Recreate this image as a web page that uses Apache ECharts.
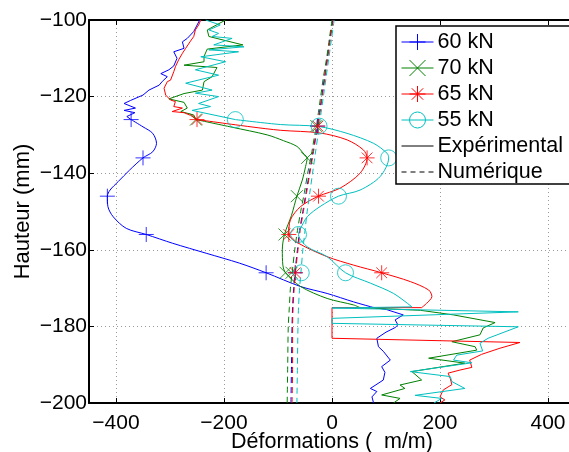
<!DOCTYPE html>
<html><head><meta charset="utf-8">
<script src="https://cdn.jsdelivr.net/npm/echarts@6/dist/echarts.min.js"></script>
<style>html,body{margin:0;padding:0;background:#fff}#c{width:569px;height:452px}</style>
</head><body><div id="c"></div>
<script>
// ---------- tick labels ----------
const xTicks = [-400, -200, 0, 200, 400];
const yMin = -200, yMax = -100, yStep = 20;
const xMin = -450, xMax = 450;

// ---------- legend / load names ----------
const loads = ['60 kN', '70 kN', '65 kN', '55 kN'];
const legendExtra = ['Expérimental', 'Numérique'];

// ---------- experimental: gauge markers ----------
const gaugeY  = [-126, -136, -146, -156, -166];
const gauge60 = [-372, -350, -416, -344, -122];
const gauge70 = [-252,  -46,  -65,  -88,  -86];
const gauge65 = [-250,   65,  -25,  -80,   92];
const gauge55 = [-179,  105,   12,  -62,   25];

// ---------- experimental curves [strain, height] ----------
const exp60Top = [[-245,-100],[-256,-103],[-268,-104.8],[-277,-105.7],[-274,-107.4],[-293,-108.3],[-287,-110],[-293,-112],[-302,-113],[-317,-114],[-305,-114.8],[-314,-116],[-320,-117],[-339,-118.3],[-350,-119.6],[-373,-121],[-385,-121.8],[-364,-123],[-385,-123.6],[-365,-124.2],[-380,-125.2],[-372,-126]];
const exp60Mid = [[-372,-126],[-350,-127.9],[-332,-129.6],[-325,-132.2],[-332,-134.4],[-350,-136],[-375,-139.2],[-396,-142.2],[-411,-144.4],[-416,-146],[-415,-148.7],[-405,-151.4],[-381,-154.4],[-344,-156],[-295,-158.3],[-233,-160.9],[-171,-163.5],[-122,-166],[-58,-169.6],[-9,-171.4],[40,-173.6],[75,-175]];
const exp60Bot = [[75,-175],[101,-175.6],[132,-177],[117,-178.3],[122,-179.6],[117,-180.3],[100,-181.5],[83,-183.1],[86,-185.3],[95,-186.5],[108,-188.8],[92,-190.5],[98,-192],[95,-194],[71,-196.2],[83,-197],[74,-198.4],[77,-200]];

const exp70Top = [[-197,-100],[-231,-102.6],[-228,-104.3],[-165,-106.5],[-231,-107.6],[-237,-109.5],[-237,-110.9],[-274,-111.8],[-213,-112.4],[-222,-114.8],[-237,-116.1],[-240,-118.3],[-274,-119.2],[-302,-120.6],[-274,-121.5],[-268,-123],[-280,-123.9],[-256,-124.8],[-252,-126]];
const exp70Mid = [[-252,-126],[-185,-128],[-120,-130],[-90,-131.5],[-65,-133],[-52,-135],[-46,-136],[-49,-138.3],[-55,-141.8],[-65,-146],[-75,-151],[-88,-156],[-92,-160],[-91,-164],[-86,-166],[-58,-169.6],[-9,-172.7],[40,-174.4],[52,-175.1]];
const exp70Bot = [[52,-175.1],[164,-175.8],[225,-177],[302,-179],[280,-180.4],[274,-182.2],[222,-184],[265,-185.3],[268,-186.2],[179,-188.3],[246,-189.6],[148,-191.8],[166,-194],[126,-195.3],[135,-196.2],[92,-197.9],[126,-198.8],[114,-200]];

const exp65Top = [[-243,-100],[-247,-101.3],[-253,-102.6],[-256,-104.3],[-262,-105.5],[-271,-107.4],[-277,-108.7],[-284,-110.4],[-290,-112.2],[-293,-113.5],[-299,-115.7],[-305,-116.1],[-311,-117.8],[-308,-119.6],[-299,-120.9],[-290,-121.3],[-293,-122.6],[-277,-123],[-296,-123.9],[-274,-124.2],[-262,-124.9],[-250,-126]];
const exp65Mid = [[-250,-126],[-150,-127.9],[-95,-128.8],[-22,-129.5],[28,-131.3],[58,-133.9],[65,-136],[52,-140],[15,-143.9],[-25,-146],[-58,-148.7],[-77,-152.2],[-80,-156],[-62,-158.3],[-9,-161.8],[40,-164],[92,-166],[145,-168.3],[179,-170.5],[185,-172.2],[175,-174],[166,-175.1]];
const exp65Bot = [[166,-175.1],[0,-175.1],[0,-183.1],[348,-184.2],[311,-185.7],[277,-187.3],[255,-188.8],[259,-190.7],[237,-191.4],[215,-192.2],[219,-193.6],[222,-195.2],[206,-196.6],[200,-198.4],[209,-199.2],[200,-200]];

const exp55Top = [[-234,-100],[-207,-101.3],[-228,-102.6],[-210,-103.5],[-222,-104.3],[-185,-104.8],[-219,-106.5],[-163,-107],[-228,-107.8],[-173,-108.3],[-243,-109.6],[-197,-110.9],[-253,-113],[-210,-114.4],[-271,-116.5],[-222,-118.3],[-253,-119.1],[-210,-120],[-247,-121.8],[-225,-122.6],[-259,-123.6],[-179,-126]];
const exp55Mid = [[-179,-126],[-95,-127.3],[-25,-127.8],[28,-129.6],[77,-132.2],[102,-134.8],[105,-136],[89,-140.9],[52,-144.4],[12,-146],[-22,-148.7],[-46,-151.4],[-58,-154.4],[-62,-156],[-46,-159.2],[-9,-161.8],[25,-166],[71,-168.7],[114,-171.4],[148,-174.9]];
const exp55Bot = [[148,-174.9],[0,-175.2],[345,-176.2],[0,-177.9],[0,-179.2],[345,-180.1],[289,-183.1],[274,-184.4],[279,-186.4],[231,-187.5],[225,-188.8],[259,-189.5],[145,-191.8],[219,-193.1],[222,-194.4],[246,-196.2],[154,-198],[203,-198.8],[189,-200]];

// ---------- numerical curves ----------
const numY   = [-100,-105,-110,-115,-120,-125,-128,-130,-135,-140,-145,-150,-155,-160,-165,-170,-175,-180,-190,-200];
const num60  = [1,-4,-9,-14,-19,-24,-27,-30,-36,-42,-48,-54,-60,-64,-68,-71,-73,-74,-75,-76];
const num70  = [0,-5,-10,-16,-21,-26,-29,-32,-38,-45,-51,-58,-64,-69,-73,-77,-79,-81,-82,-83];
const num65  = [2,-3,-8,-13,-18,-23,-26,-29,-35,-41,-47,-53,-59,-63,-67,-70,-72,-73,-73,-74];
const num55  = [4,-1,-6,-11,-16,-21,-24,-26,-31,-36,-41,-46,-50,-54,-57,-60,-62,-63,-64,-65];
const numMarkY  = [-127.7, -166];
const numMark60 = [-27, -68];
const numMark70 = [-29, -75];
const numMark65 = [-26, -68];
const numMark55 = [-24, -57];

// ---------- styling ----------
const colors = ['#0000ff', '#008000', '#ff0000', '#00bfbf'];
const symbols = [
  'path://M7,0L7,14M0,7L14,7',
  'path://M0,0L14,14M14,0L0,14',
  'path://M7,0L7,14M0,7L14,7M2,2L12,12M12,2L2,12',
  'circle'
];
const symSizes = [15, 12, 15, 16];
const FONT = 'Liberation Sans, Arial, Helvetica, sans-serif';

const expTop = [exp60Top, exp70Top, exp65Top, exp55Top];
const expMid = [exp60Mid, exp70Mid, exp65Mid, exp55Mid];
const expBot = [exp60Bot, exp70Bot, exp65Bot, exp55Bot];
const gauges = [gauge60, gauge70, gauge65, gauge55];
const nums = [num60, num70, num65, num55];
const numMarks = [numMark60, numMark70, numMark65, numMark55];

const series = [];
loads.forEach((name, i) => {
  const c = colors[i];
  const item = {color: 'transparent', borderColor: c, borderWidth: 1};
  const base = {name, type: 'line', showSymbol: false, symbol: symbols[i], symbolSize: symSizes[i],
    lineStyle: {color: c, width: 1}, itemStyle: item, animation: false, z: 2};
  series.push(Object.assign({}, base, {data: expTop[i]}));
  series.push(Object.assign({}, base, {data: expMid[i], smooth: 0.3}));
  series.push(Object.assign({}, base, {data: expBot[i]}));
  series.push(Object.assign({}, base, {data: numY.map((y, k) => [nums[i][k], y]), smooth: 0.3,
    lineStyle: {color: c, width: 1, type: [6, 4]}}));
  series.push({name, type: 'scatter', symbol: symbols[i], symbolSize: symSizes[i], itemStyle: item,
    data: gaugeY.map((y, k) => [gauges[i][k], y]), animation: false, z: 3});
  series.push({name, type: 'scatter', symbol: symbols[i], symbolSize: symSizes[i], itemStyle: item,
    data: numMarkY.map((y, k) => [numMarks[i][k], y]), animation: false, z: 3});
});
series.push({name: legendExtra[0], type: 'line', data: [], symbol: 'none',
  lineStyle: {color: '#000', width: 1}, itemStyle: {color: 'transparent', borderWidth: 0}});
series.push({name: legendExtra[1], type: 'line', data: [], symbol: 'none',
  lineStyle: {color: '#000', width: 1, type: [5, 4]}, itemStyle: {color: 'transparent', borderWidth: 0}});

const minus = v => String(v).replace('-', '\u2212');
const gridLine = {show: true, lineStyle: {color: '#9a9a9a', width: 1, type: [1, 3]}};
const axisLineBlack = {show: true, onZero: false, lineStyle: {color: '#000', width: 2}};

const legendData = loads.map((name, i) => ({
  name, itemStyle: {color: 'transparent', borderColor: colors[i], borderWidth: 1},
  lineStyle: {color: colors[i], width: 1}
})).concat([
  {name: legendExtra[0], itemStyle: {color: 'transparent', borderColor: 'transparent', borderWidth: 0}, lineStyle: {color: '#000', width: 1}},
  {name: legendExtra[1], itemStyle: {color: 'transparent', borderColor: 'transparent', borderWidth: 0}, lineStyle: {color: '#000', width: 1, type: [5, 4]}}
]);

const chart = echarts.init(document.getElementById('c'), null, {renderer: 'canvas'});
chart.setOption({
  animation: false,
  backgroundColor: '#fff',
  grid: {left: 89, top: 20, width: 486, height: 383, containLabel: false, outerBoundsMode: 'none'},
  legend: {
    data: legendData, orient: 'vertical', left: 396, top: 26,
    padding: [5, 8, 1, 5], itemWidth: 32, itemHeight: 20, itemGap: 4,
    backgroundColor: '#fff', borderColor: '#000', borderWidth: 1.5,
    textStyle: {fontSize: 21.5, lineHeight: 20, color: '#000', fontFamily: FONT, padding: [0, 0, 0, -1]},
    selectedMode: false
  },
  xAxis: [{
    type: 'value', min: xMin, max: xMax, position: 'bottom',
    axisLine: axisLineBlack,
    axisTick: {show: true, inside: true, length: 5, customValues: xTicks, lineStyle: {color: '#000', width: 1}},
    axisLabel: {customValues: xTicks, formatter: minus, fontSize: 21, color: '#000', margin: 10, fontFamily: FONT},
    splitLine: gridLine,
    name: 'Déformations (  m/m)', nameLocation: 'middle', nameGap: 28, nameMoveOverlap: false,
    nameTextStyle: {fontSize: 21.5, color: '#000', fontFamily: FONT}
  }, {
    type: 'value', min: xMin, max: xMax, position: 'top',
    axisLine: axisLineBlack,
    axisTick: {show: true, inside: true, length: 5, customValues: xTicks, lineStyle: {color: '#000', width: 1}},
    axisLabel: {show: false}, splitLine: {show: false}
  }],
  yAxis: [{
    type: 'value', min: yMin, max: yMax, interval: yStep,
    axisLine: axisLineBlack,
    axisTick: {show: true, inside: true, length: 5, lineStyle: {color: '#000', width: 1}},
    axisLabel: {formatter: minus, fontSize: 21, color: '#000', margin: 2, fontFamily: FONT},
    splitLine: gridLine,
    name: 'Hauteur (mm)', nameLocation: 'middle', nameGap: 55, nameRotate: 90, nameMoveOverlap: false,
    nameTextStyle: {fontSize: 22, color: '#000', fontFamily: FONT}
  }],
  series
});
</script>
</body></html>
